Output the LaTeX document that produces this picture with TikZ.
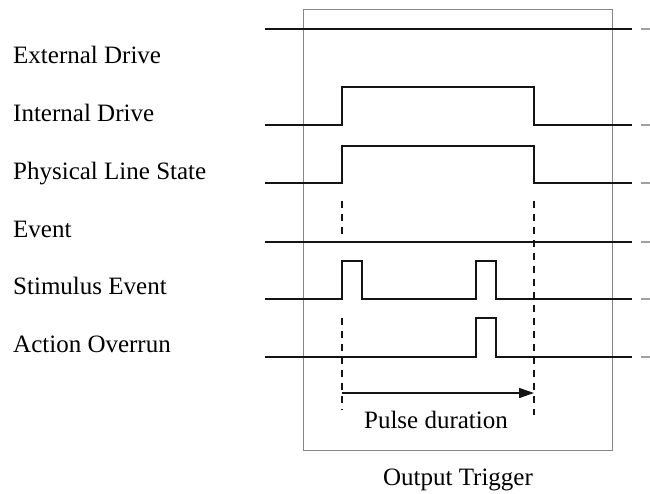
\documentclass[tikz,border=0pt]{standalone}
\usepackage{fontspec}
\setmainfont{Liberation Serif}
\usepackage{xcolor}
\usetikzlibrary{arrows.meta}
\definecolor{sigblack}{RGB}{20,20,20}
\definecolor{boxgray}{RGB}{135,135,135}
\definecolor{tailgray}{RGB}{160,160,160}

\begin{document}
\begin{tikzpicture}[x=1pt,y=-1pt,
    signal/.style={sigblack, line width=1.6pt},
    marker/.style={sigblack, line width=1.2pt, dash pattern=on 7pt off 6pt},
    tail/.style={tailgray, line width=1.6pt},
    lbl/.style={anchor=base west, inner sep=0pt, font=\fontsize{25}{29}\selectfont},
    caption/.style={anchor=base, inner sep=0pt, font=\fontsize{25}{29}\selectfont}]

\useasboundingbox (0,0) rectangle (650,494);

% =========================
% 1. trigger window
% =========================
\draw[boxgray, line width=1pt] (303,10) rectangle (612,450);
\node[caption] (trigger) at (458,485) {Output Trigger};

% =========================
% 2. signal names
% =========================
\node[lbl] (extdrive) at (13,64)  {External Drive};
\node[lbl] (intdrive) at (13,122) {Internal Drive};
\node[lbl] (physline) at (13,180) {Physical Line State};
\node[lbl] (event)    at (13,237) {Event};
\node[lbl] (stimulus) at (13,294) {Stimulus Event};
\node[lbl] (overrun)  at (13,352) {Action Overrun};

% =========================
% 3. waveforms
% =========================
% external drive stays high
\draw[signal] (265,29) -- (632,29);

% internal drive and line state follow the pulse
\draw[signal] (265,125) -- (342,125) -- (342,87) -- (534,87) -- (534,125) -- (632,125);
\draw[signal] (265,183) -- (342,183) -- (342,146) -- (534,146) -- (534,183) -- (632,183);

% event line
\draw[signal] (265,242) -- (632,242);

% stimulus, two short pulses
\draw[signal] (265,299) -- (342,299) -- (342,261) -- (362,261) -- (362,299)
    -- (476,299) -- (476,261) -- (496,261) -- (496,299) -- (632,299);

% overrun on the second stimulus
\draw[signal] (265,357) -- (476,357) -- (476,318) -- (496,318) -- (496,357) -- (632,357);

% faded continuation at the right edge
\foreach \y in {29,125,183,242,299,357}
    \draw[tail] (641,\y) -- (650,\y);

% =========================
% 4. pulse duration
% =========================
\draw[marker] (342,201) -- (342,238);
\draw[marker] (342,318) -- (342,410);
\draw[marker] (534,201) -- (534,415);

\coordinate (pstart) at (342,393);
\coordinate (pend)   at (534,393);
\draw[signal, -{Triangle[length=15pt,width=10pt]}] (pstart) -- (pend);
\node[caption] (pulsedur) at (436,428) {Pulse duration};

\end{tikzpicture}
\end{document}
